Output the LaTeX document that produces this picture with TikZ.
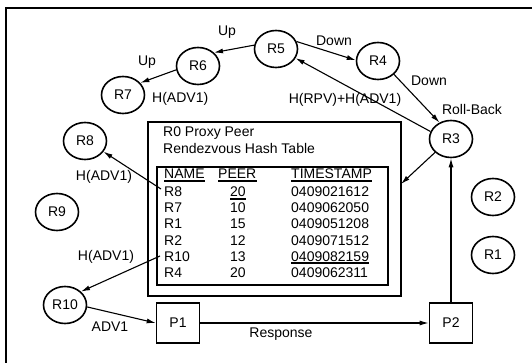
\documentclass[tikz,border=0pt]{standalone}
\usepackage{fontspec}
\setmainfont{Liberation Sans}
\usetikzlibrary{shapes.geometric,arrows.meta}
\newcommand\lblfont{\fontsize{14}{16}\selectfont}
\begin{document}
\begin{tikzpicture}[x=1pt,y=-1pt,
  peer/.style={draw, ellipse, line width=1.6pt, minimum width=43pt,
               minimum height=37pt, inner sep=0pt, font=\lblfont},
  pbox/.style={draw, rectangle, line width=1.6pt, minimum width=43pt,
               minimum height=40pt, inner sep=0pt, font=\lblfont},
  arr/.style={line width=1.1pt, -{Latex[length=9pt,width=5pt]}},
  lbl/.style={font=\lblfont, inner sep=0pt},
  cell/.style={font=\lblfont, inner sep=0pt, anchor=base west},
  uline/.style={line width=1.1pt},
  frame/.style={line width=1.5pt},
]
\useasboundingbox (0,0) rectangle (532,363);

% border of the figure (top and left edge)
\coordinate (fA) at (6,8);
\coordinate (fB) at (532,8);
\coordinate (fC) at (6,363);
\draw[frame] (fB) -- (fA) -- (fC);

% rendezvous peers
\node[peer] (R5)  at (276,49)  {R5};
\node[peer] (R4)  at (378,61)  {R4};
\node[peer] (R6)  at (198,66)  {R6};
\node[peer] (R7)  at (123,95)  {R7};
\node[peer] (R8)  at (85,141)  {R8};
\node[peer] (R9)  at (57,212)  {R9};
\node[peer] (R10) at (65,305)  {R10};
\node[peer] (R3)  at (451,139) {R3};
\node[peer] (R2)  at (493,197) {R2};
\node[peer] (R1)  at (493,255) {R1};

% edge peers
\node[pbox] (P1) at (178,323) {P1};
\node[pbox] (P2) at (451,323) {P2};

% proxy peer hash table
\node[draw, line width=1.1pt, minimum width=253pt, minimum height=174pt,
      inner sep=0pt] (tbl) at (274.5,209) {};
\node[draw, line width=1.1pt, minimum width=231pt, minimum height=118pt,
      inner sep=0pt] (tin) at (272.5,226) {};
\node[cell] (ttl1) at (163,137) {R0 Proxy Peer};
\node[cell] (ttl2) at (163,154) {Rendezvous Hash Table};

\node[cell] (hN) at (164,179) {NAME};
\node[cell] (hP) at (218,179) {PEER};
\node[cell] (hT) at (291,179) {TIMESTAMP};
\draw[uline] ([yshift=-2pt]hN.base west) -- ([yshift=-2pt]hN.base east);
\draw[uline] ([yshift=-2pt]hP.base west) -- ([yshift=-2pt]hP.base east);
\draw[uline] ([yshift=-2pt]hT.base west) -- ([yshift=-2pt]hT.base east);

\node[cell] (n1) at (164,197) {R8};
\node[cell] (n2) at (164,213) {R7};
\node[cell] (n3) at (164,229) {R1};
\node[cell] (n4) at (164,245) {R2};
\node[cell] (n5) at (164,261) {R10};
\node[cell] (n6) at (164,277) {R4};

\node[cell] (p1) at (230,197) {20};
\node[cell] (p2) at (230,213) {10};
\node[cell] (p3) at (230,229) {15};
\node[cell] (p4) at (230,245) {12};
\node[cell] (p5) at (230,261) {13};
\node[cell] (p6) at (230,277) {20};
\draw[uline] ([yshift=-2pt]p1.base west) -- ([yshift=-2pt]p1.base east);

\node[cell] (s1) at (291,197) {0409021612};
\node[cell] (s2) at (291,213) {0409062050};
\node[cell] (s3) at (291,229) {0409051208};
\node[cell] (s4) at (291,245) {0409071512};
\node[cell] (s5) at (291,261) {0409082159};
\node[cell] (s6) at (291,277) {0409062311};
\draw[uline] ([yshift=-2pt]s5.base west) -- ([yshift=-2pt]s5.base east);

% connector ends on the table
\coordinate (inR3) at (401,184);
\coordinate (outR8) at (161,189);
\coordinate (outR10) at (160,256);

% messages
\draw[arr] (R5.170) -- (R6.40);
\draw[arr] (R6.190) -- (R7.35);
\draw[arr] (R5.20) -- (R4.178);
\draw[arr] (R4.320) -- (R3.125);
\draw[arr] (R3.160) -- (R5.335);
\draw[arr] (R3.220) -- (inR3);
\draw[arr] (P2) -- (R3);
\draw[arr] (P1) -- (P2);
\draw[arr] (R10.355) -- (P1.west);
\draw[arr] (outR8) -- (R8.330);
\draw[arr] (outR10) -- (R10.40);

% message labels
\node[lbl] (lUp1)  at (227,32)  {Up};
\node[lbl] (lUp2)  at (147,62)  {Up};
\node[lbl] (lDn1)  at (334,41)  {Down};
\node[lbl] (lDn2)  at (429,81)  {Down};
\node[lbl] (lRB)   at (472,109) {Roll-Back};
\node[lbl] (lRPV)  at (345,100) {H(RPV)+H(ADV1)};
\node[lbl, anchor=west] (lA7) at (152,99) {H(ADV1)};
\node[lbl] (lA8)   at (104,177) {H(ADV1)};
\node[lbl] (lA10)  at (106,257) {H(ADV1)};
\node[lbl] (lAdv)  at (110,327) {ADV1};
\node[lbl] (lResp) at (281,334) {Response};
\end{tikzpicture}
\end{document}
